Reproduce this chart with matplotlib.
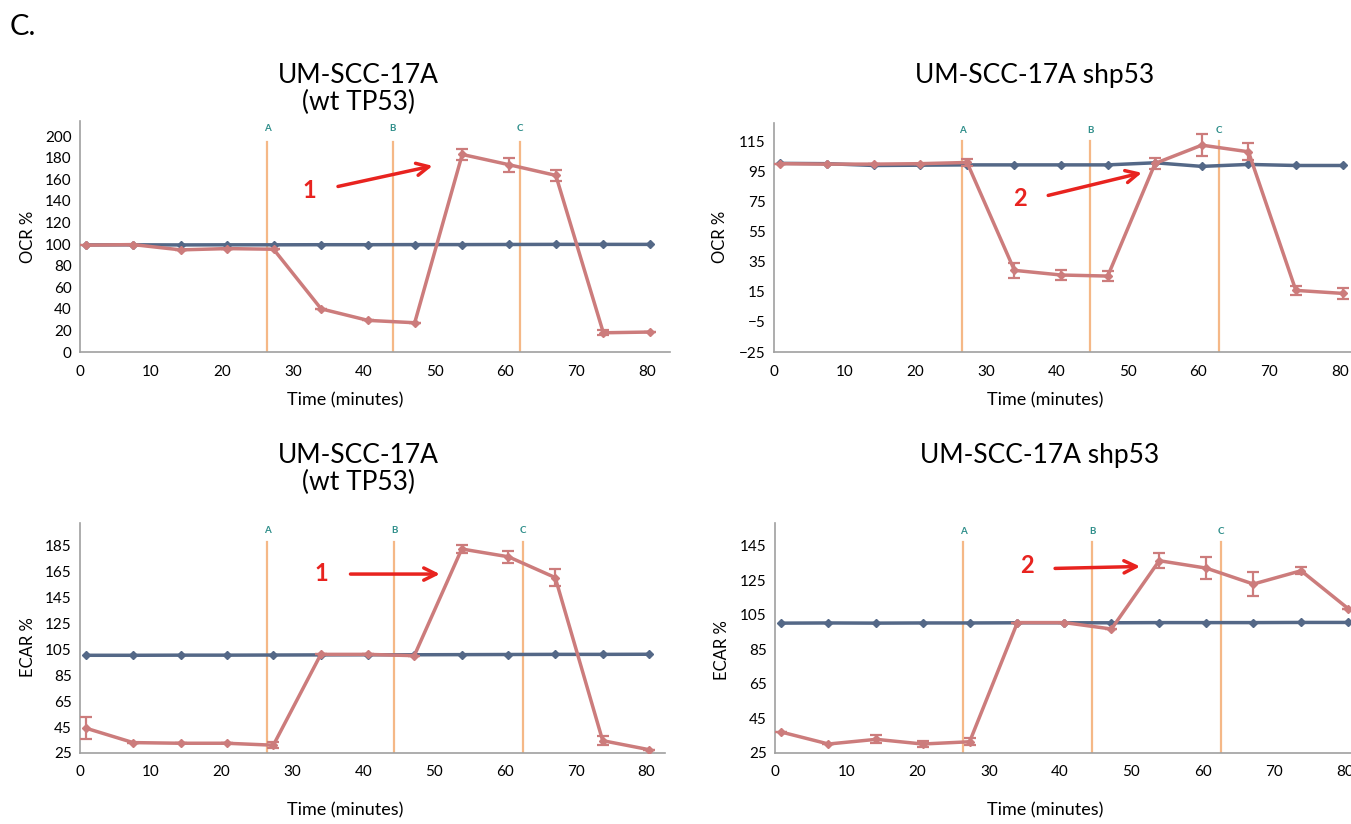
import numpy as np
import matplotlib.pyplot as plt

plt.rcParams['font.family'] = ['Lato', 'DejaVu Sans']

# time points (minutes), shared by all four panels
t = [0.9, 7.5, 14.2, 20.7, 27.3, 34.0, 40.6, 47.2, 53.9, 60.5, 67.1, 73.8, 80.4]

# OCR, UM-SCC-17A (wt TP53)
ocr_wt_ctrl = [99.2, 99.3, 99.2, 99.3, 99.3, 99.4, 99.4, 99.5, 99.5, 99.6, 99.7, 99.7, 99.7]
ocr_wt = [99.0, 99.5, 94.6, 95.8, 95.2, 40.0, 29.3, 27.1, 183.0, 173.5, 163.6, 17.8, 18.5]
ocr_wt_err = [0, 0, 0, 0, 0, 0, 0, 0, 5.0, 6.5, 5.0, 2.5, 0]

# OCR, UM-SCC-17A shp53
ocr_sh_ctrl = [100.2, 100.0, 98.8, 99.0, 99.2, 99.2, 99.2, 99.2, 100.6, 98.2, 99.5, 98.8, 98.8]
ocr_sh = [100.0, 99.7, 99.7, 100.0, 100.8, 29.2, 26.1, 25.4, 100.2, 112.3, 107.9, 15.9, 13.9]
ocr_sh_err = [0, 0, 0, 0, 2.2, 5.0, 3.5, 3.5, 3.5, 7.5, 5.5, 3.2, 3.5]

# ECAR, UM-SCC-17A (wt TP53)
ecar_wt_ctrl = [100.2, 100.2, 100.3, 100.3, 100.4, 100.5, 100.6, 100.6, 100.7, 100.8, 100.9, 100.9, 101.0]
ecar_wt = [44.0, 33.0, 32.5, 32.5, 31.0, 100.9, 100.9, 99.9, 182.0, 176.0, 160.0, 34.5, 27.5]
ecar_wt_err = [8.5, 0, 0, 0, 2.5, 0, 0, 0, 3.3, 4.6, 6.8, 3.2, 0]

# ECAR, UM-SCC-17A shp53
ecar_sh_ctrl = [100.1, 100.2, 100.1, 100.2, 100.2, 100.3, 100.3, 100.3, 100.4, 100.4, 100.4, 100.5, 100.5]
ecar_sh = [37.1, 30.2, 32.9, 30.2, 31.5, 100.4, 100.4, 96.7, 136.2, 131.9, 122.7, 130.4, 108.5]
ecar_sh_err = [0, 0, 2.3, 2.0, 2.0, 0, 0, 0, 4.2, 6.5, 7.0, 2.1, 0]

# injection times A, B, C per panel
inj = [[26.4, 44.1, 62.0], [26.6, 44.7, 62.9], [26.4, 44.4, 62.6], [26.4, 44.5, 62.6]]
inj_names = ['A', 'B', 'C']

W, H = 1351, 824
fig = plt.figure(figsize=(W / 100, H / 100), dpi=100)

def box(l, r, b, tp):
    return [l / W, 1 - b / H, (r - l) / W, (b - tp) / H]

blue = '#546887'
red = '#CC7C7C'
orange = '#F5B887'
teal = '#2E8E8A'
arrowred = '#E8231F'

panels = [
    dict(pos=box(80, 670, 352, 121), x=ocr_wt, c=ocr_wt_ctrl, e=ocr_wt_err, xlim=83.2,
         ylim=(0, 214), ticks=np.arange(0, 201, 20), ltop=195, lab=207,
         num='1', numxy=(32.3, 150), a0=(36.0, 152.8), a1=(50.1, 173)),
    dict(pos=box(774, 1351, 352, 123), x=ocr_sh, c=ocr_sh_ctrl, e=ocr_sh_err, xlim=81.6,
         ylim=(-25, 127), ticks=np.arange(-25, 116, 20), ltop=115, lab=122,
         num='2', numxy=(34.8, 77.2), a0=(38.4, 78.5), a1=(52.4, 94.4)),
    dict(pos=box(80, 665, 753, 523), x=ecar_wt, c=ecar_wt_ctrl, e=ecar_wt_err, xlim=82.6,
         ylim=(25, 202), ticks=np.arange(25, 186, 20), ltop=187, lab=196,
         num='1', numxy=(34.1, 163.5), a0=(37.8, 162.7), a1=(51.2, 162.7)),
    dict(pos=box(775, 1351, 753, 523), x=ecar_sh, c=ecar_sh_ctrl, e=ecar_sh_err, xlim=80.8,
         ylim=(25, 158), ticks=np.arange(25, 146, 20), ltop=146.8, lab=153,
         num='2', numxy=(35.4, 133.5), a0=(38.9, 131.7), a1=(51.6, 132.9)),
]

for i, p in enumerate(panels):
    ax = fig.add_axes(p['pos'])
    ax.set_xlim(0, p['xlim'])
    ax.set_ylim(*p['ylim'])
    for k, xv in enumerate(inj[i]):
        ax.plot([xv, xv], [p['ylim'][0], p['ltop']], color=orange, lw=1.6, zorder=1)
        ax.text(xv, p['lab'], inj_names[k], color=teal, fontsize=7, fontweight='bold',
                ha='center', va='center')
    ax.plot(t, p['c'], color=blue, lw=2.5, marker='D', ms=4.5, zorder=3)
    ax.errorbar(t, p['x'], yerr=p['e'], color=red, lw=2.5, marker='D', ms=4.5,
                capsize=4, elinewidth=1.6, capthick=1.6, zorder=4)
    ax.annotate('', xy=p['a1'], xytext=p['a0'],
                arrowprops=dict(arrowstyle='->', color=arrowred, lw=2.5, mutation_scale=22))
    ax.text(p['numxy'][0], p['numxy'][1], p['num'], color=arrowred, fontsize=17,
            fontweight='bold', ha='center', va='center')
    ax.set_xticks(np.arange(0, 81, 10))
    ax.set_yticks(p['ticks'])
    ax.tick_params(length=0, labelsize=11, pad=6)
    ax.tick_params(axis='x', pad=9)
    for s in ['top', 'right']:
        ax.spines[s].set_visible(False)
    for s in ['left', 'bottom']:
        ax.spines[s].set_color('#A0A0A0')
        ax.spines[s].set_linewidth(1.2)

fig.text(10 / W, 1 - 27 / H, 'C.', fontsize=21, va='center', ha='left')

fig.text(358 / W, 1 - 89 / H, 'UM-SCC-17A\n(wt TP53)', fontsize=19, ha='center', va='center',
         linespacing=1.05)
fig.text(1035 / W, 1 - 75 / H, 'UM-SCC-17A shp53', fontsize=19, ha='center', va='center')
fig.text(358 / W, 1 - 469 / H, 'UM-SCC-17A\n(wt TP53)', fontsize=19, ha='center', va='center',
         linespacing=1.05)
fig.text(1040 / W, 1 - 455 / H, 'UM-SCC-17A shp53', fontsize=19, ha='center', va='center')

for xx, yy in [(345, 400), (1045, 400), (345, 810), (1045, 810)]:
    fig.text(xx / W, 1 - yy / H, 'Time (minutes)', fontsize=13, ha='center', va='center')
for xx, yy, s in [(28, 237, 'OCR %'), (720, 237, 'OCR %'), (28, 647, 'ECAR %'), (722, 650, 'ECAR %')]:
    fig.text(xx / W, 1 - yy / H, s, fontsize=12, ha='center', va='center', rotation=90)

fig.savefig('out.png', dpi=100)
